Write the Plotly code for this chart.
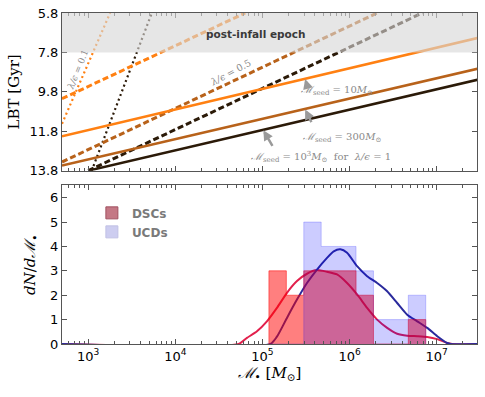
import numpy as np
import plotly.graph_objects as go
from plotly.subplots import make_subplots

# --- top panel: growth tracks, read as (log10 M, LBT) end points ---
solid_orange = ([2.699, 7.466], [12.06, 7.07])
solid_brown = ([2.699, 7.466], [13.54, 8.63])
solid_black = ([3.000, 7.466], [13.80, 9.19])
dash_orange = ([2.699, 4.802], [10.15, 5.80])
dash_brown = ([2.699, 6.316], [13.36, 5.80])
dash_black = ([3.000, 6.833], [13.80, 5.80])
dot_orange = ([2.699, 3.251], [11.42, 5.80])
dot_black = ([3.040, 3.730], [13.80, 5.80])

# --- bottom panel: histograms (log10 bin edges) and KDE curves ---
bin_edges = [5.074, 5.274, 5.474, 5.674, 5.874, 6.074, 6.274, 6.474, 6.674, 6.874]
dsc_counts = [3, 2, 3, 3, 3, 2, 0, 0, 1]
ucd_counts = [0, 0, 5, 4, 4, 3, 1, 1, 2]

dsc_kde_logm = [2.699, 4.726, 4.822, 4.937, 5.051, 5.166, 5.281, 5.396, 5.511, 5.626,
                5.741, 5.856, 5.971, 6.086, 6.201, 6.316, 6.431, 6.546, 6.661, 6.776,
                6.891, 7.006, 7.120, 7.178, 7.466]
dsc_kde = [0, 0, 0.25, 0.52, 0.93, 1.48, 2.10, 2.58, 2.88, 3.03,
           2.96, 2.85, 2.50, 2.03, 1.48, 1.00, 0.66, 0.42, 0.34, 0.32,
           0.29, 0.20, 0.04, 0, 0]
ucd_kde_logm = [2.699, 5.090, 5.166, 5.281, 5.396, 5.511, 5.626, 5.741, 5.818, 5.894,
                5.971, 6.086, 6.201, 6.316, 6.431, 6.546, 6.661, 6.776, 6.891, 7.006,
                7.120, 7.159, 7.466]
ucd_kde = [0, 0, 0.30, 1.07, 1.82, 2.50, 3.05, 3.53, 3.80, 3.88,
           3.74, 3.19, 2.78, 2.50, 2.16, 1.68, 1.20, 0.93, 0.66, 0.32,
           0.04, 0, 0]

ORANGE = "#ff8012"
BROWN = "#b8621a"
DARK = "#2b1a08"
GREY = "#8a8a8a"

fig = make_subplots(rows=2, cols=1)


def track(pts, color, dash, width, row):
    xs, ys = pts
    fig.add_trace(go.Scatter(x=[10 ** v for v in xs], y=ys, mode="lines",
                             line=dict(color=color, dash=dash, width=width),
                             showlegend=False, hoverinfo="skip"), row=row, col=1)


track(dot_orange, ORANGE, "2px,3px", 2.2, 1)
track(dot_black, DARK, "2px,3px", 2.2, 1)
track(dash_orange, ORANGE, "6px,3px", 3, 1)
track(dash_brown, BROWN, "6px,3px", 3, 1)
track(dash_black, DARK, "6px,3px", 3, 1)
track(solid_orange, ORANGE, "solid", 2.5, 1)
track(solid_brown, BROWN, "solid", 2.5, 1)
track(solid_black, DARK, "solid", 2.5, 1)

# KDE curves under the histograms
fig.add_trace(go.Scatter(x=[10 ** v for v in dsc_kde_logm], y=dsc_kde, mode="lines",
                         line=dict(color="#e2204c", width=2, shape="spline", smoothing=0.6),
                         showlegend=False, hoverinfo="skip"), row=2, col=1)
fig.add_trace(go.Scatter(x=[10 ** v for v in ucd_kde_logm], y=ucd_kde, mode="lines",
                         line=dict(color="#2a2a9c", width=2, shape="spline", smoothing=0.6),
                         showlegend=False, hoverinfo="skip"), row=2, col=1)


def step_hist(counts, fill, row):
    xs = [10 ** bin_edges[0]] + [10 ** e for e in bin_edges]
    ys = [0] + list(counts) + [0]
    fig.add_trace(go.Scatter(x=xs, y=ys, mode="lines", line=dict(shape="hv", color=fill, width=1),
                             fill="tozeroy", fillcolor=fill, showlegend=False,
                             hoverinfo="skip"), row=row, col=1)


step_hist(dsc_counts, "rgba(255,0,0,0.5)", 2)
step_hist(ucd_counts, "rgba(0,0,255,0.2)", 2)

# legend entries
fig.add_trace(go.Bar(x=[None], y=[None], name="DSCs",
                     marker=dict(color="rgba(190,105,120,0.9)", line=dict(color="#a05060", width=1))),
              row=2, col=1)
fig.add_trace(go.Bar(x=[None], y=[None], name="UCDs",
                     marker=dict(color="rgba(205,205,240,1)", line=dict(color="#c0c0e4", width=1))),
              row=2, col=1)

# shaded post-infall epoch
fig.add_shape(type="rect", xref="x domain", yref="y", x0=0, x1=1, y0=5.8, y1=7.8,
              fillcolor="rgba(214,214,214,0.62)", line_width=0, layer="above")

ann_font = dict(family="DejaVu Serif", size=10, color=GREY)
fig.add_annotation(x=4.93, y=6.85, xref="x", yref="y", showarrow=False,
                   text="<b>post-infall epoch</b>",
                   font=dict(family="DejaVu Sans", size=10.5, color="#3a3a3a"))
fig.add_annotation(x=2.88, y=8.7, xref="x", yref="y", showarrow=False, textangle=-68,
                   text="<i>λ/ϵ</i> = 0.1", font=dict(family="DejaVu Serif", size=9, color=GREY))
fig.add_annotation(x=4.63, y=8.8, xref="x", yref="y", showarrow=False, textangle=-28,
                   text="<i>λ/ϵ</i> = 0.5", font=dict(family="DejaVu Serif", size=9.5, color=GREY))
fig.add_annotation(x=5.85, y=9.74, xref="x", yref="y", showarrow=False,
                   text="<i>ℳ</i><sub>seed</sub> = 10<i>M</i><sub>⊙</sub>", font=ann_font)
fig.add_annotation(x=5.91, y=12.13, xref="x", yref="y", showarrow=False,
                   text="<i>ℳ</i><sub>seed</sub> = 300<i>M</i><sub>⊙</sub>", font=ann_font)
fig.add_annotation(x=5.67, y=13.09, xref="x", yref="y", showarrow=False,
                   text="<i>ℳ</i><sub>seed</sub> = 10<sup>3</sup><i>M</i><sub>⊙</sub>  for  <i>λ/ϵ</i> = 1",
                   font=ann_font)

for hx, hy, ax, ay in [(5.49, 9.15, 3, 10), (5.49, 10.70, 7, 14), (5.01, 11.75, 10, 17)]:
    fig.add_annotation(x=hx, y=hy, xref="x", yref="y", ax=ax, ay=ay, text="",
                       showarrow=True, arrowhead=2, arrowsize=0.8, arrowwidth=2.5,
                       arrowcolor="#9a9a9a")

tick_font = dict(family="DejaVu Sans", size=13, color="black")
frame = dict(showline=True, linecolor="#555", linewidth=1, mirror="ticks", ticks="inside",
             ticklen=5, tickcolor="#555", showgrid=False, zeroline=False, tickfont=tick_font,
             automargin=False)

xticks = [1e3, 1e4, 1e5, 1e6, 1e7]
xtext = ["10<sup>3</sup>", "10<sup>4</sup>", "10<sup>5</sup>", "10<sup>6</sup>", "10<sup>7</sup>"]
xminor = [k * 10.0 ** d for d in range(2, 8) for k in range(2, 10)]
for ax_name in ["xaxis", "xaxis2"]:
    fig.layout[ax_name].update(type="log", range=[np.log10(500), np.log10(2.9e7)],
                               tickvals=xticks, ticktext=xtext,
                               minor=dict(ticks="inside", ticklen=3, tickcolor="#555",
                                          tickvals=xminor, showgrid=False), **frame)
fig.layout.xaxis.update(showticklabels=False)
fig.layout.xaxis2.update(title=dict(text="<i>ℳ</i><sub>•</sub> [<i>M</i><sub>⊙</sub>]",
                                    font=dict(family="DejaVu Serif", size=15, color="black"),
                                    standoff=4))

fig.layout.yaxis.update(domain=[0.5236, 1.0], range=[13.8, 5.8],
                        tickvals=[5.8, 7.8, 9.8, 11.8, 13.8],
                        ticktext=["5.8", "7.8", "9.8", "11.8", "13.8"],
                        title=dict(text="LBT [Gyr]",
                                   font=dict(family="DejaVu Serif", size=15, color="black"),
                                   standoff=6), **frame)
fig.layout.yaxis2.update(domain=[0, 0.479], range=[0, 6.5], tickvals=[0, 1, 2, 3, 4, 5, 6],
                         title=dict(text="<i>dN</i>/<i>d</i><i>ℳ</i><sub>•</sub>",
                                    font=dict(family="DejaVu Serif", size=15, color="black"),
                                    standoff=10),
                         **frame)

fig.update_layout(width=485, height=397, margin=dict(l=62, r=8, t=13, b=53),
                  paper_bgcolor="white", plot_bgcolor="white",
                  legend=dict(x=0.072, y=0.44, xanchor="left", yanchor="top",
                              font=dict(family="DejaVu Sans", size=12, color="#7a7a7a", weight="bold"),
                              bgcolor="rgba(0,0,0,0)", tracegroupgap=4, itemwidth=30))

fig.write_html("out.html", config={"displayModeBar": False},
               post_script="document.body.style.margin='0';")
